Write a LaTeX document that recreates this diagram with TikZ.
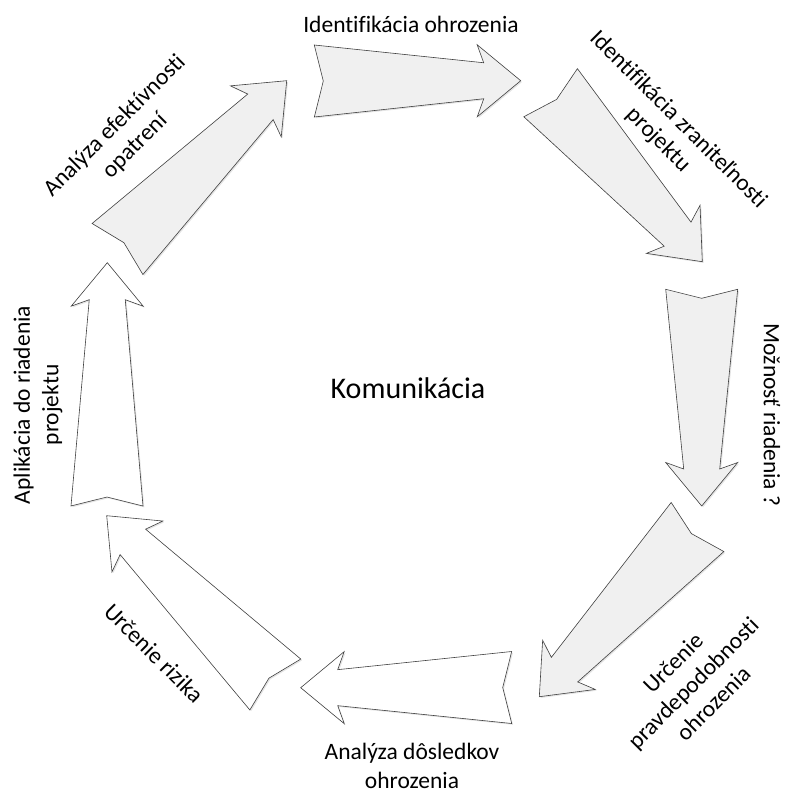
\documentclass[tikz,border=0pt]{standalone}
\usepackage{fontspec}
\setmainfont{Carlito}[Ligatures=NoCommon]
\usetikzlibrary{calc,shadows}

\tikzset{
  ring/.style={draw=black!75, line width=0.6pt, line join=miter,
    drop shadow={shadow xshift=1.3pt, shadow yshift=-1.3pt, opacity=0.3, fill=black!35}},
  grayring/.style={ring, fill=black!6},
  whitering/.style={ring, fill=white},
  lbl/.style={font=\fontsize{23.5}{28.5}\selectfont, align=center, inner sep=0pt},
}

% block arrow with notched tail: #1 tail, #2 tip, #3 style
\newcommand{\ringarrow}[3]{%
  \coordinate (nk) at ($(#2)!37pt!(#1)$);
  \coordinate (bb) at ($(#2)!43.5pt!(#1)$);
  \draw[#3] ($(#1)!36pt!90:(#2)$) -- ($(#1)!9pt!(#2)$) -- ($(#1)!36pt!-90:(#2)$)
    -- ($(nk)!18pt!-90:(#2)$) -- ($(bb)!36pt!-90:(#2)$) -- (#2)
    -- ($(bb)!36pt!90:(#2)$) -- ($(nk)!18pt!90:(#2)$) -- cycle;
}

\begin{document}
\begin{tikzpicture}[x=1pt,y=-1pt]
\useasboundingbox (0,0) rectangle (784,794);

% tails and tips, clockwise from the top
\coordinate (a1t) at (314.3,81);   \coordinate (a1h) at (520.7,80.7);
\coordinate (a2t) at (550.6,92.7); \coordinate (a2h) at (702.3,261.7);
\coordinate (a3t) at (701.7,289.3);\coordinate (a3h) at (701.7,506);
\coordinate (a4t) at (697.5,527);  \coordinate (a4h) at (539.3,696.7);
\coordinate (a5t) at (511.7,687.5);\coordinate (a5h) at (300.7,687.7);
\coordinate (a6t) at (275.3,684.5);\coordinate (a6h) at (106.7,515.7);
\coordinate (a7t) at (107,506);    \coordinate (a7h) at (107.3,262.7);
\coordinate (a8t) at (117.5,249);  \coordinate (a8h) at (286.7,80.7);

\ringarrow{a1t}{a1h}{grayring}
\ringarrow{a2t}{a2h}{grayring}
\ringarrow{a3t}{a3h}{grayring}
\ringarrow{a4t}{a4h}{grayring}
\ringarrow{a5t}{a5h}{whitering}
\ringarrow{a6t}{a6h}{whitering}
\ringarrow{a7t}{a7h}{whitering}
\ringarrow{a8t}{a8h}{grayring}

\node[lbl] (ohr) at (411,24) {Identifikácia ohrozenia};
\node[lbl, rotate=-45] (zra) at (668,130) {Identifikácia zraniteľnosti\\projektu};
\node[lbl, rotate=-90] (moz) at (772,415) {Možnosť riadenia ?};
\node[lbl, rotate=45] (pra) at (693,683) {Určenie\\pravdepodobnosti\\ohrozenia};
\node[lbl] (dos) at (412,766) {Analýza dôsledkov\\ohrozenia};
\node[lbl, rotate=-45] (riz) at (154,653) {Určenie rizika};
\node[lbl, rotate=90] (apl) at (38,405) {Aplikácia do riadenia\\projektu};
\node[lbl, rotate=45] (efe) at (125,136) {Analýza efektívnosti\\opatrení};
\node[font=\fontsize{30}{36}\selectfont, inner sep=0pt] (kom) at (408,388) {Komunikácia};
\end{tikzpicture}
\end{document}
